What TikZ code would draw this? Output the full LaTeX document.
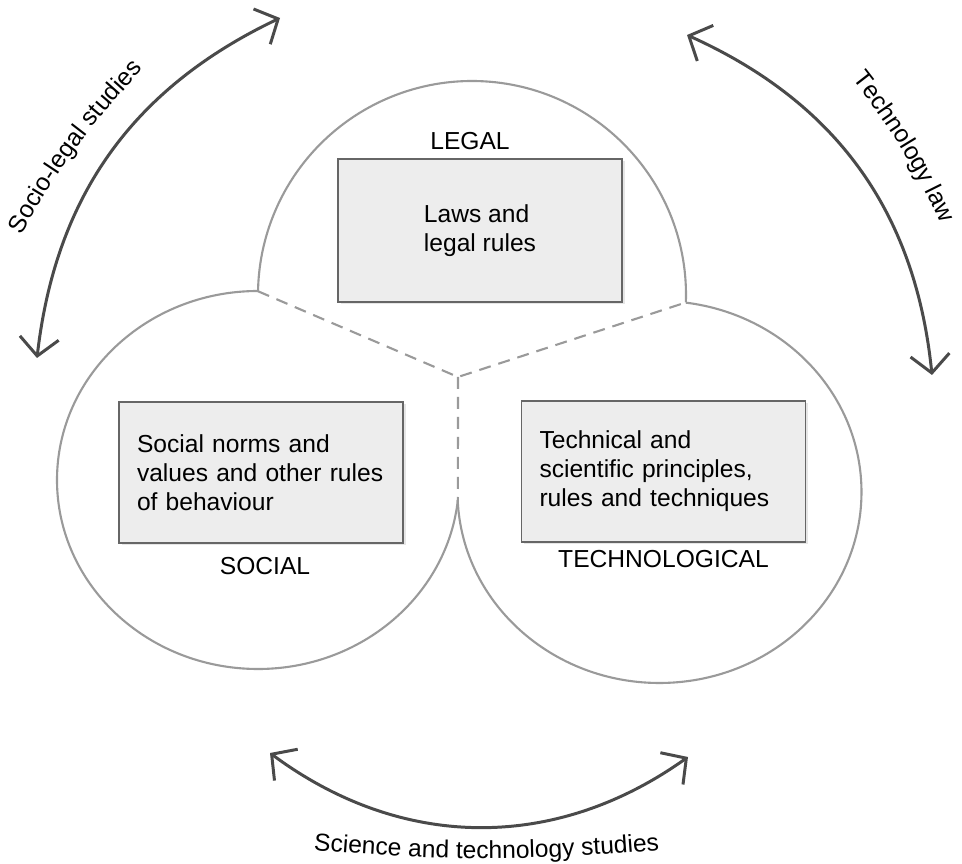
\documentclass[tikz,border=0pt]{standalone}
\usepackage{fontspec}
\setmainfont{Liberation Sans}
\usepackage{xcolor}
\usepackage{tikz}
\usetikzlibrary{arrows.meta,positioning,calc,shadows,decorations.text}

\definecolor{ringgray}{HTML}{9A9A9A}
\definecolor{arcgray}{HTML}{4A4A4A}
\definecolor{boxfill}{HTML}{EDEDED}
\definecolor{boxline}{HTML}{666666}
\newcommand{\arcfont}{\fontsize{14}{16.5}\selectfont}

\begin{document}
\begin{tikzpicture}[
	font=\fontsize{14}{16.5}\selectfont,
	>={Straight Barb[length=0.36cm,width=0.78cm]},
	ring/.style={draw=ringgray, line width=1.2pt},
	seam/.style={draw=ringgray, line width=1.2pt, dash pattern=on 0.24cm off 0.16cm},
	rulebox/.style={draw=boxline, line width=0.9pt, fill=boxfill, minimum width=5.68cm, minimum height=2.82cm, inner xsep=0.36cm,
		drop shadow={shadow xshift=0.05cm, shadow yshift=-0.05cm, opacity=0.2}},
	sphere/.style={inner sep=0pt},
	flow/.style={draw=arcgray, line width=1.7pt, <->}
	]
	\useasboundingbox (0,0) rectangle (19.24,17.28);
	
	% centres of the three spheres
	\coordinate (ctop) at (9.44,11.38);
	\coordinate (cleft) at (5.16,7.68);
	\coordinate (cright) at (13.19,7.44);
	\coordinate (hub) at (9.16,9.74);
	\coordinate (jl) at ($(ctop)+(179:4.28)$);
	\coordinate (jr) at ($(ctop)+(-2:4.28)$);
	\coordinate (cusp) at ($(cleft)+(-6:4.02 and 3.78)$);
	
	% outlines
	\draw[ring] (jr) arc[start angle=-2, end angle=179, radius=4.28];
	\draw[ring] (cleft) ++(90:4.02 and 3.78) arc[start angle=90, end angle=354, x radius=4.02, y radius=3.78];
	\draw[ring] (cright) ++(182.4:4.04 and 3.82) arc[start angle=182.4, end angle=442.5, x radius=4.04, y radius=3.82];
	
	% borders between the spheres
	\draw[seam] (jl) -- (hub) -- (jr);
	\draw[seam] (hub) -- (cusp);
	
	% LEGAL
	\node[rulebox, minimum height=2.86cm, align=left] (lawbox) at (9.60,12.67) {Laws and\\legal rules};
	\node[sphere, above=0.16cm of lawbox, xshift=-0.2cm] (legal) {LEGAL};
	
	% SOCIAL
	\node[rulebox, text width=4.96cm, align=left] (normbox) at (5.22,7.83) {Social norms and\\values and other rules\\of behaviour};
	\node[sphere, below=0.26cm of normbox, xshift=0.08cm] (social) {SOCIAL};
	
	% TECHNOLOGICAL
	\node[rulebox, text width=4.96cm, align=left] (techbox) at (13.27,7.85) {Technical and\\scientific principles,\\rules and techniques};
	\node[sphere, below=0.14cm of techbox] (technological) {TECHNOLOGICAL};
	
	% fields of study between the spheres
	\coordinate (socio1) at (0.74,10.12);
	\coordinate (socio2) at (5.60,16.92);
	\coordinate (sociotext1) at (0.27,12.27);
	\coordinate (sociotext2) at (3.11,16.15);
	\draw[flow] (socio1) to[bend left=29] (socio2);
	\path[decorate, decoration={text along path, text align=center,
		text={|\arcfont|Socio-legal studies}}] (sociotext1) to[bend left=8] (sociotext2);
	
	\coordinate (techlaw1) at (13.74,16.58);
	\coordinate (techlaw2) at (18.64,9.78);
	\coordinate (techlawtext1) at (16.73,16.10);
	\coordinate (techlawtext2) at (19.01,12.34);
	\draw[flow] (techlaw1) to[bend left=30] (techlaw2);
	\path[decorate, decoration={text along path, text align=center,
		text={|\arcfont|Technology law}}] (techlawtext1) to[bend left=8] (techlawtext2);
	
	\coordinate (sts1) at (5.40,2.22);
	\coordinate (sts2) at (13.76,2.14);
	\coordinate (ststext1) at (6.00,0.30);
	\coordinate (ststext2) at (13.46,0.30);
	\draw[flow] (sts1) to[bend right=36] (sts2);
	\path[decorate, decoration={text along path, text align=center,
		text={|\arcfont|Science and technology studies}}] (ststext1) to[bend right=5] (ststext2);
	
\end{tikzpicture}
\end{document}
